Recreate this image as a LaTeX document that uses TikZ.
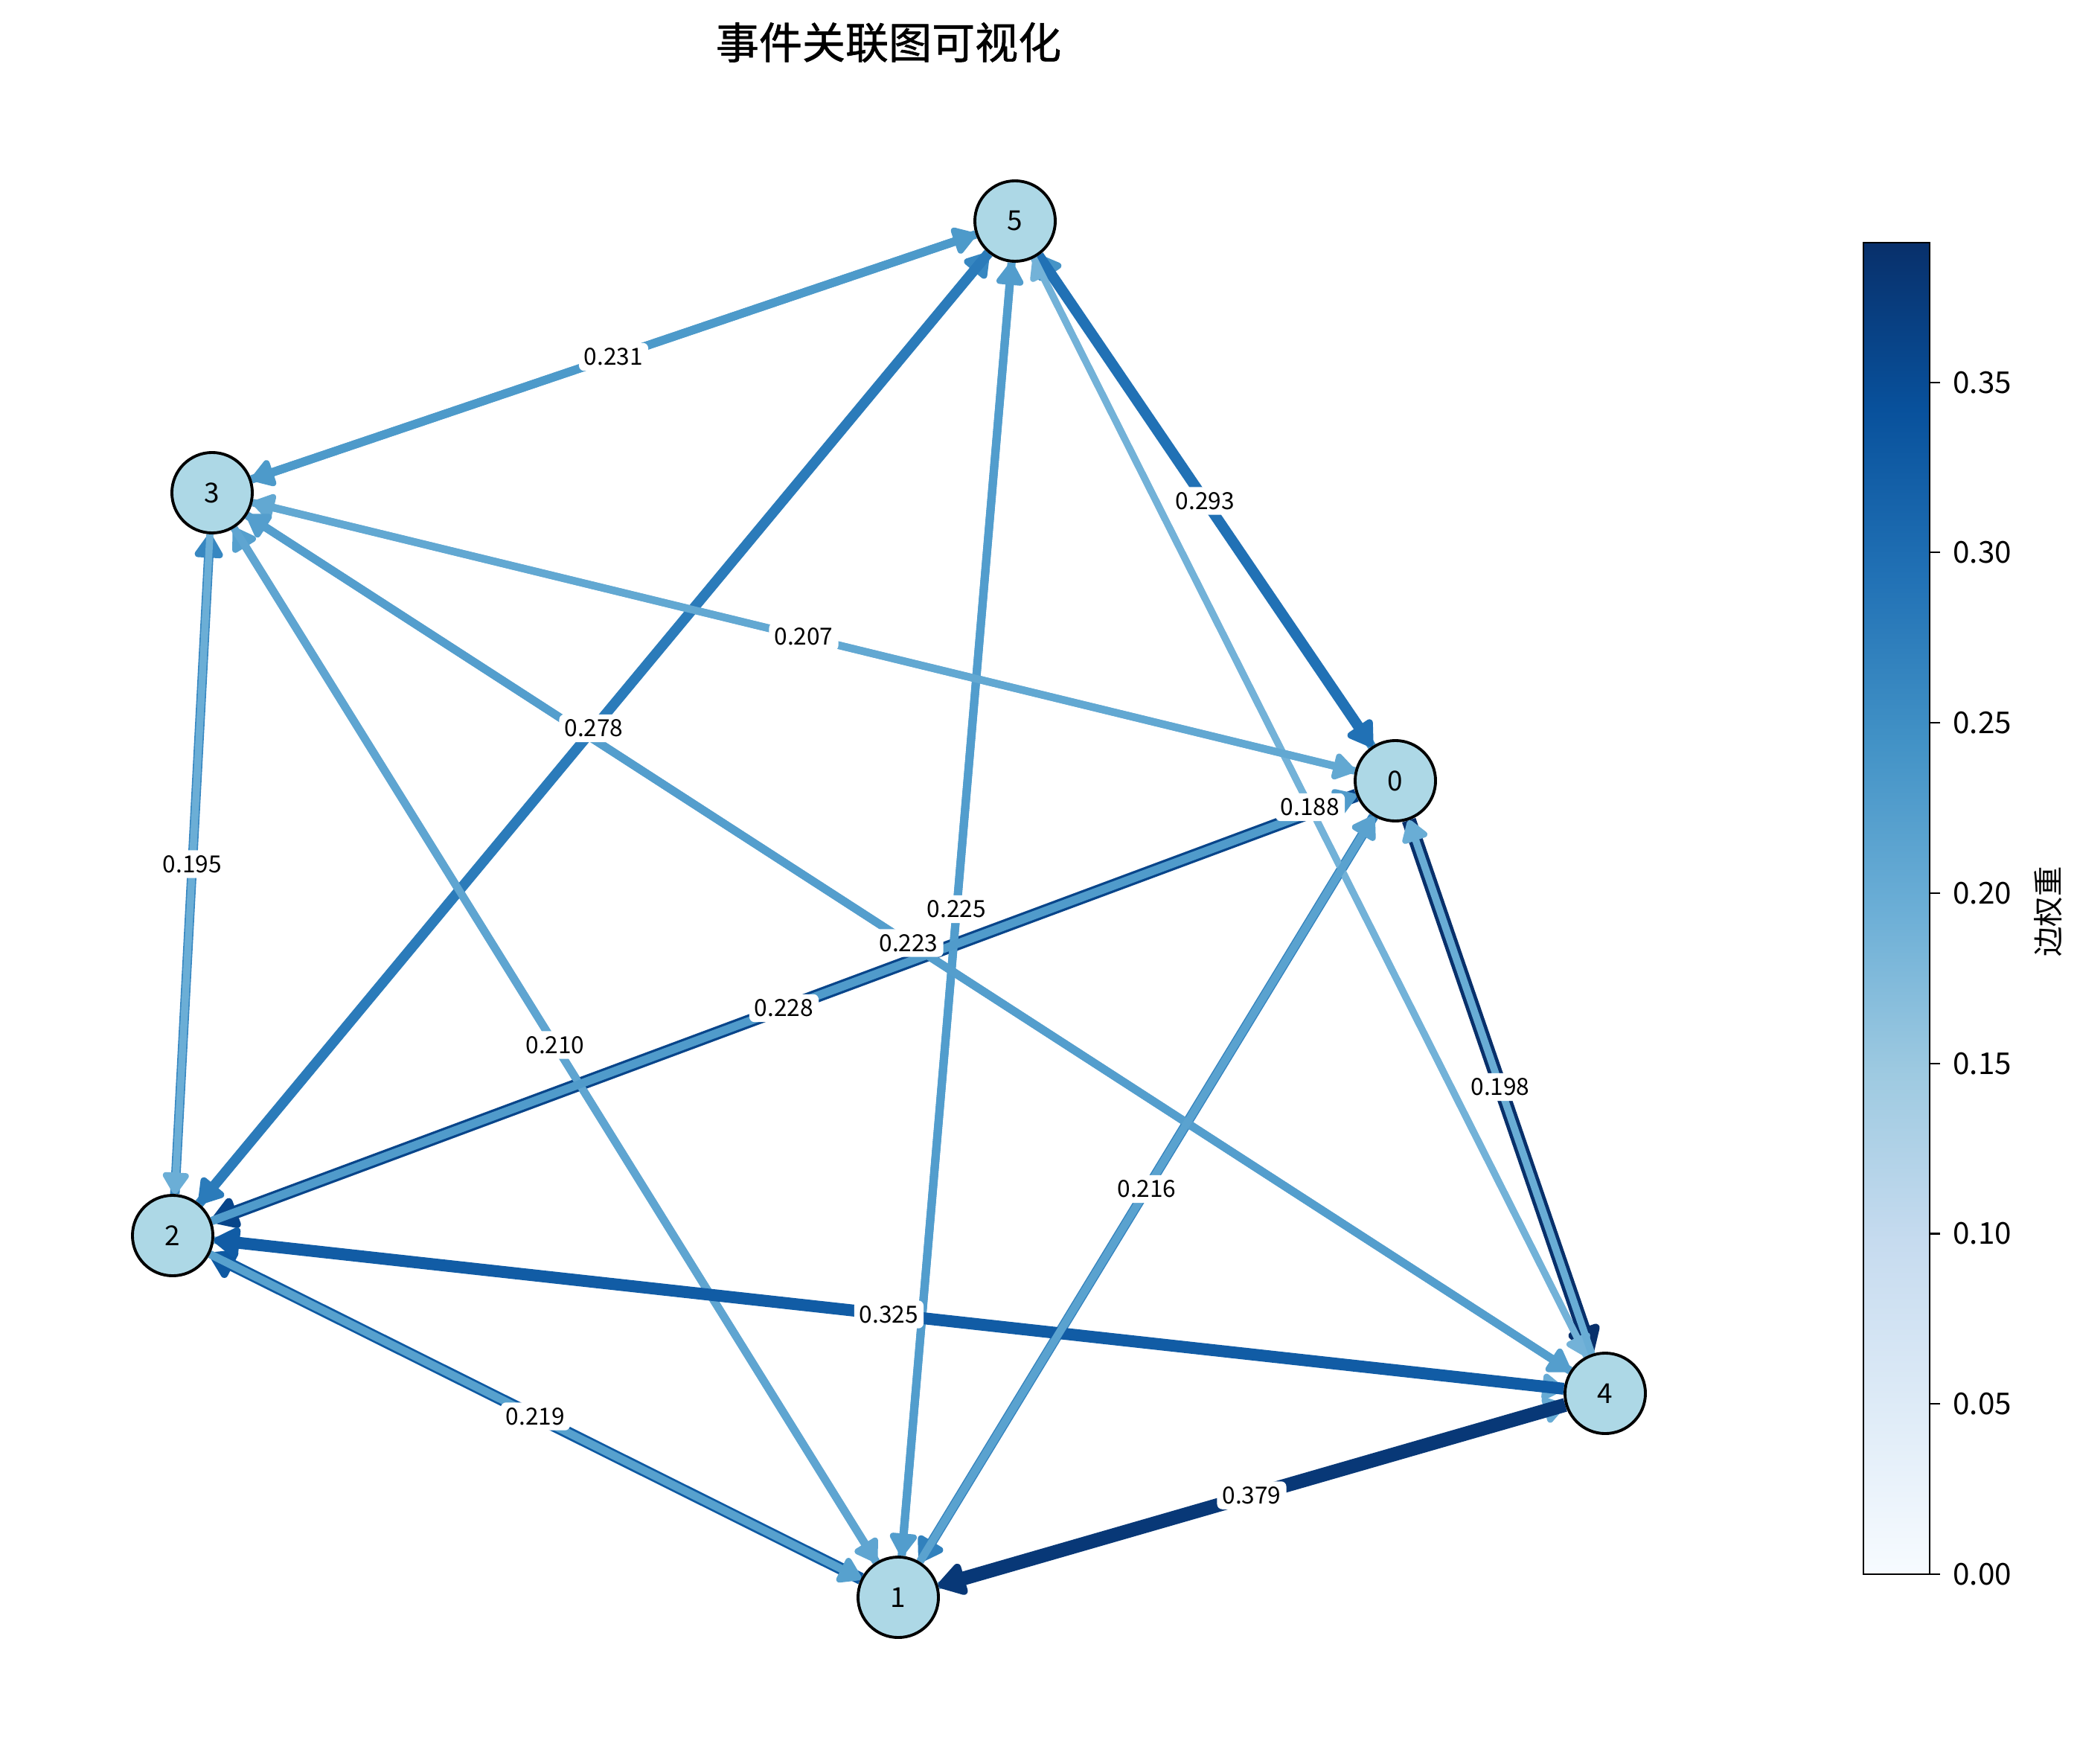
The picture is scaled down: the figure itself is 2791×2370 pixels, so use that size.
\documentclass[tikz,border=0pt]{standalone}
\usepackage{fontspec}
\setmainfont{Noto Sans CJK SC}
\newfontfamily\titlefont{Noto Sans CJK SC}[FakeBold=1]
\usetikzlibrary{arrows.meta,backgrounds}
% Blues colour map, nine stops
\definecolor{bl0}{HTML}{F7FBFF}
\definecolor{bl1}{HTML}{DEEBF7}
\definecolor{bl2}{HTML}{C6DBEF}
\definecolor{bl3}{HTML}{9ECAE1}
\definecolor{bl4}{HTML}{6BAED6}
\definecolor{bl5}{HTML}{4292C6}
\definecolor{bl6}{HTML}{2171B5}
\definecolor{bl7}{HTML}{08519C}
\definecolor{bl8}{HTML}{08306B}
\definecolor{nodefill}{HTML}{ADD8E6}

\begin{document}
\begin{tikzpicture}[x=0.01cm, y=-0.01cm,
  evnode/.style={circle, draw=black, line width=1.1pt, fill=nodefill, minimum size=1.08cm, inner sep=0pt, font=\fontsize{10.5}{12}\selectfont},
  arr/.style={-{Triangle[length=6.5pt 1,width=8.5pt 1,round]}},
  lbl/.style={fill=white, rounded corners=2pt, inner sep=2pt, font=\fontsize{9}{10}\selectfont},
  tick/.style={line width=0.6pt}
]
\useasboundingbox (0,0) rectangle (2791,2370);
\node[font=\titlefont\fontsize{16.5}{18}\selectfont] (title) at (1194,57) {事件关联图可视化};

% events
\node[evnode] (n0) at (1875,1049) {0};
\node[evnode] (n1) at (1207,2146) {1};
\node[evnode] (n2) at (232,1660) {2};
\node[evnode] (n3) at (285,662) {3};
\node[evnode] (n4) at (2157,1872) {4};
\node[evnode] (n5) at (1364,297) {5};

\begin{scope}[on background layer]
\fill[white] (0,0) rectangle (2791,2370);
% reverse edges, lying under the labelled ones
\draw[arr, line width=3.23pt, bl4!27!bl5] (n5) -- (n3);
\draw[arr, line width=3.64pt, bl5!68!bl6] (n2) -- (n5);
\draw[arr, line width=3.15pt, bl4!40!bl5] (n1) -- (n5);
\draw[arr, line width=3.36pt, bl4!9!bl5] (n0) -- (n5);
\draw[arr, line width=2.63pt, bl3!15!bl4] (n4) -- (n5);
\draw[arr, line width=2.90pt, bl4!77!bl5] (n0) -- (n3);
\draw[arr, line width=3.12pt, bl4!44!bl5] (n4) -- (n3);
\draw[arr, line width=3.08pt, bl4!50!bl5] (n1) -- (n3);
\draw[arr, line width=3.64pt, bl5!68!bl6] (n2) -- (n3);
\draw[arr, line width=5.04pt, bl7!63!bl8] (n0) -- (n2);
\draw[arr, line width=2.80pt, bl4!91!bl5] (n2) -- (n4);
\draw[arr, line width=4.62pt, bl6!25!bl7] (n1) -- (n2);
\draw[arr, line width=2.80pt, bl4!91!bl5] (n1) -- (n4);
\draw[arr, line width=3.78pt, bl5!48!bl6] (n0) -- (n1);
\draw[arr, line width=5.47pt, bl8] (n0) -- (n4);
% labelled edges
\draw[arr, line width=3.23pt, bl4!27!bl5] (n3) -- (n5);
\draw[arr, line width=3.89pt, bl5!31!bl6] (n5) -- (n2);
\draw[arr, line width=3.15pt, bl4!40!bl5] (n5) -- (n1);
\draw[arr, line width=4.10pt, bl6] (n5) -- (n0);
\draw[arr, line width=2.63pt, bl3!15!bl4] (n5) -- (n4);
\draw[arr, line width=2.90pt, bl4!77!bl5] (n3) -- (n0);
\draw[arr, line width=3.12pt, bl4!44!bl5] (n3) -- (n4);
\draw[arr, line width=2.94pt, bl4!70!bl5] (n3) -- (n1);
\draw[arr, line width=2.73pt, bl4] (n3) -- (n2);
\draw[arr, line width=3.19pt, bl4!33!bl5] (n2) -- (n0);
\draw[arr, line width=4.55pt, bl6!35!bl7] (n4) -- (n2);
\draw[arr, line width=3.07pt, bl4!52!bl5] (n2) -- (n1);
\draw[arr, line width=5.31pt, bl7!25!bl8] (n4) -- (n1);
\draw[arr, line width=3.02pt, bl4!58!bl5] (n1) -- (n0);
\draw[arr, line width=2.77pt, bl4!95!bl5] (n4) -- (n0);
\end{scope}

% weights
\path (n3) -- node[lbl] {0.231} (n5);
\path (n5) -- node[lbl] {0.278} (n2);
\path (n5) -- node[lbl] {0.225} (n1);
\path (n5) -- node[lbl] {0.293} (n0);
\path (n5) -- node[lbl] {0.188} (n4);
\path (n3) -- node[lbl] {0.207} (n0);
\path (n3) -- node[lbl] {0.223} (n4);
\path (n3) -- node[lbl] {0.210} (n1);
\path (n3) -- node[lbl] {0.195} (n2);
\path (n2) -- node[lbl] {0.228} (n0);
\path (n4) -- node[lbl] {0.325} (n2);
\path (n2) -- node[lbl] {0.219} (n1);
\path (n4) -- node[lbl] {0.379} (n1);
\path (n1) -- node[lbl] {0.216} (n0);
\path (n4) -- node[lbl] {0.198} (n0);

% colour bar
\foreach \i [evaluate=\i as \j using int(\i+1)] in {0,...,7}
  \shade[bottom color=bl\i, top color=bl\j] (2504,{2115-\i*223.63}) rectangle (2593,{2115-(\i+1)*223.63});
\draw[tick] (2504,326) rectangle (2593,2115);
\foreach \v/\t in {0/0.00,1/0.05,2/0.10,3/0.15,4/0.20,5/0.25,6/0.30,7/0.35}{
  \draw[tick] (2593,{2115-\v*228.77}) -- (2607,{2115-\v*228.77});
  \node[anchor=west, font=\fontsize{11.5}{12}\selectfont] at (2612,{2115-\v*228.77}) {\t};
}
\node[rotate=90, font=\fontsize{11.5}{12}\selectfont] (cblabel) at (2752,1225) {边权重};
\end{tikzpicture}
\end{document}
